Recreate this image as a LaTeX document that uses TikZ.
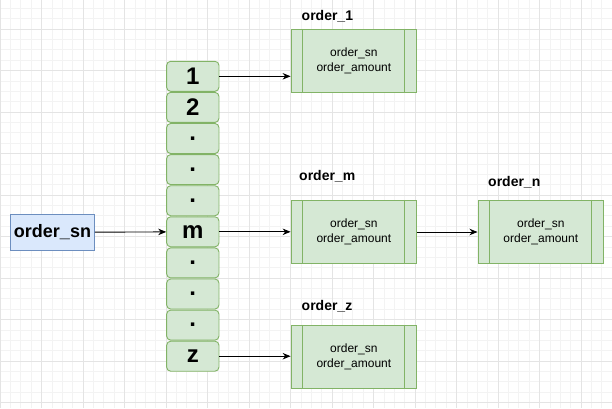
\documentclass[tikz,border=0pt]{standalone}
\usepackage{fontspec}
\setmainfont{Liberation Sans}
\usetikzlibrary{arrows.meta}
\definecolor{gfill}{HTML}{D5E8D4}
\definecolor{gline}{HTML}{82B366}
\definecolor{bfill}{HTML}{DAE8FC}
\definecolor{bline}{HTML}{6C8EBF}
\definecolor{minorc}{HTML}{F3F3F3}
\definecolor{majorc}{HTML}{E4E4E4}
\tikzset{
  cell/.style={draw=gline, fill=gfill, line width=0.9pt, rounded corners=4pt,
    minimum width=52.3pt, minimum height=30pt, inner sep=0pt,
    font=\fontsize{24}{26}\selectfont\bfseries},
  obox/.style={draw=gline, fill=gfill, line width=0.9pt,
    minimum width=125.7pt, minimum height=62.6pt, inner sep=0pt, align=center,
    font=\fontsize{12}{15}\selectfont},
  keybox/.style={draw=bline, fill=bfill, line width=0.9pt,
    minimum width=83.6pt, minimum height=36.5pt, inner sep=0pt,
    font=\fontsize{18}{20}\selectfont\bfseries},
  olabel/.style={anchor=west, inner sep=0pt, font=\fontsize{14}{16}\selectfont\bfseries},
  conn/.style={line width=0.9pt, -{Stealth[length=8pt,width=6.5pt]}},
  bar/.style={draw=gline, line width=0.9pt}
}
\begin{document}
\begin{tikzpicture}[x=1pt,y=-1pt]
\useasboundingbox (0,0) rectangle (612,408);
\fill[white] (0,0) rectangle (612,408);
% grid
\foreach \i in {0,...,59} {
  \draw[minorc, line width=0.6pt] ({\i*10.375},0) -- ({\i*10.375},408);
}
\foreach \j in {-2,...,37} {
  \draw[minorc, line width=0.6pt] (0,{29+\j*10.375}) -- (612,{29+\j*10.375});
}
\foreach \i in {0,...,14} {
  \draw[majorc, line width=0.7pt] ({\i*41.5},0) -- ({\i*41.5},408);
}
\foreach \j in {-1,...,9} {
  \draw[majorc, line width=0.7pt] (0,{29+\j*41.5}) -- (612,{29+\j*41.5});
}
% key
\node[keybox] (key) at (52.5,232.3) {order\_sn};
% cells
\node[cell] (c1) at (192.8,76.3) {1};
\node[cell] (c2) at (192.8,107.4) {2};
\node[cell] (c3) at (192.8,138.5) {.};
\node[cell] (c4) at (192.8,169.6) {.};
\node[cell] (c5) at (192.8,200.7) {.};
\node[cell] (cm) at (192.8,231.8) {m};
\node[cell] (c7) at (192.8,262.9) {.};
\node[cell] (c8) at (192.8,294.0) {.};
\node[cell] (c9) at (192.8,325.1) {.};
\node[cell] (cz) at (192.8,356.2) {z};
% order boxes
\node[obox] (o1) at (353.9,60.7) {order\_sn\\order\_amount};
\node[obox] (om) at (353.9,232.0) {order\_sn\\order\_amount};
\node[obox] (on) at (540.8,232.0) {order\_sn\\order\_amount};
\node[obox] (oz) at (353.9,356.7) {order\_sn\\order\_amount};
\foreach \b in {o1,om,on,oz} {
  \draw[bar] ([xshift=12.3pt]\b.north west) -- ([xshift=12.3pt]\b.south west);
  \draw[bar] ([xshift=-12.3pt]\b.north east) -- ([xshift=-12.3pt]\b.south east);
}
% labels
\node[olabel] (l1) at (301.5,16.5) {order\_1};
\node[olabel] (lm) at (299,176.5) {order\_m};
\node[olabel] (ln) at (488,182) {order\_n};
\node[olabel] (lz) at (301.5,306.5) {order\_z};
% connectors
\draw[conn] (key) -- (cm);
\draw[conn] (c1.east) -- (c1.east -| o1.west);
\draw[conn] (cm.east) -- (cm.east -| om.west);
\draw[conn] (om) -- (on);
\draw[conn] (cz.east) -- (cz.east -| oz.west);
\end{tikzpicture}
\end{document}
